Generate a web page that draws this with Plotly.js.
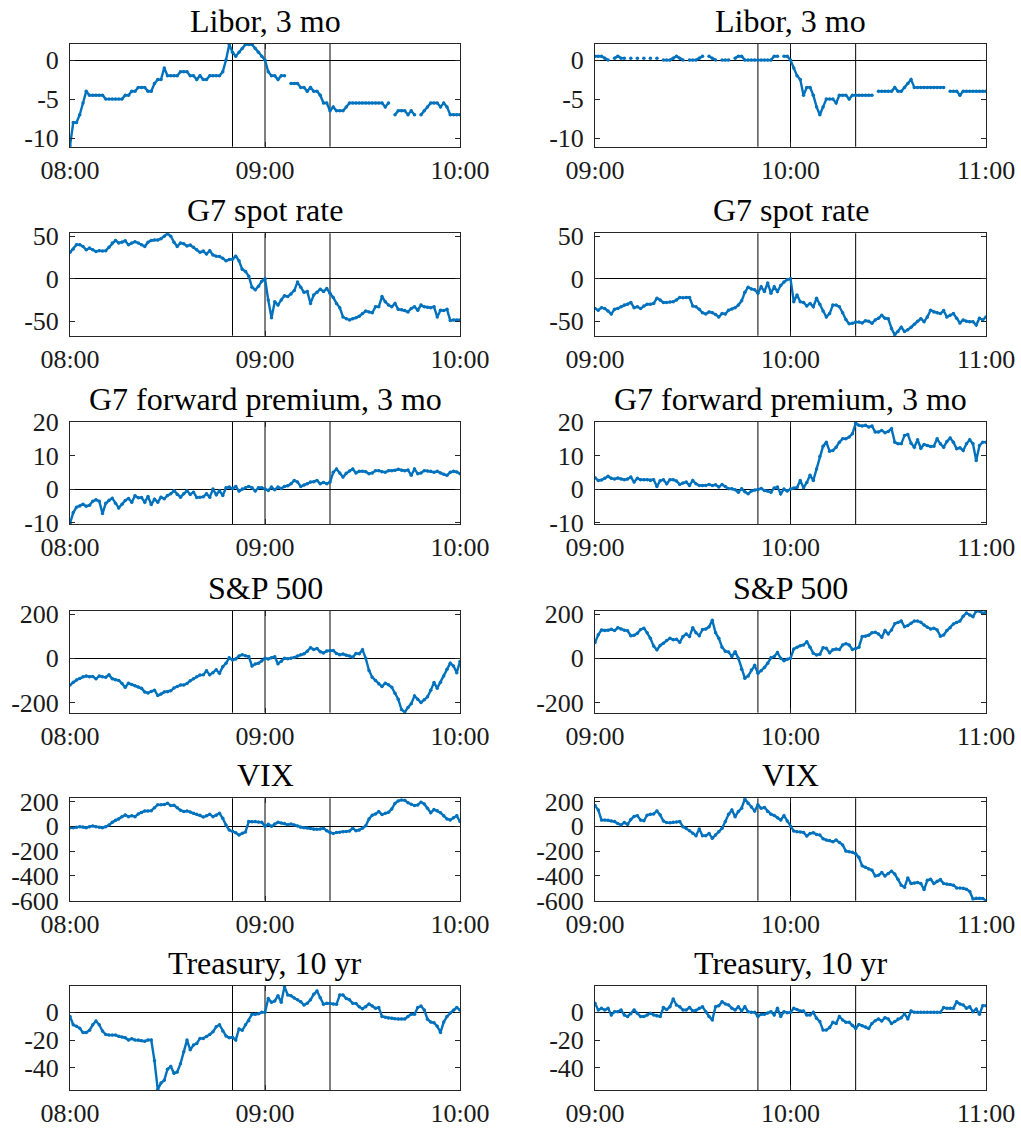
<!DOCTYPE html>
<html><head><meta charset="utf-8">
<script src="https://cdn.plot.ly/plotly-3.0.1.min.js"></script>
<style>html,body{margin:0;padding:0;background:#fff}</style>
</head><body><div id="chart" style="width:1021px;height:1128px"></div>
<script>
// ---------- data ----------
const panelTitles = ["Libor, 3 mo","G7 spot rate","G7 forward premium, 3 mo","S&P 500","VIX","Treasury, 10 yr"];
const startLeft = "08:00";
const startRight = "09:00";
const stepMinutes = 1;
const xTickLabelsLeft = ["08:00","09:00","10:00"];
const xTickLabelsRight = ["09:00","10:00","11:00"];
const eventTimesLeft = ["08:50","09:00","09:20"];
const eventTimesRight = ["09:50","10:00","10:20"];
const yTickValues = [[-10,-5,0],[-50,0,50],[-10,0,10,20],[-200,0,200],[-600,-400,-200,0,200],[-40,-20,0]];
const yRanges = [[-11.1,2.1],[-67,53.4],[-10.4,20],[-246,215],[-600,226],[-56,19.2]];

const liborL = [-11,-8,-8,-7,-5.5,-4,-4.5,-4.5,-4.5,-4.5,-4.5,
 -5,-5,-5,-5,-5,-5,
 -4.5,-4.5,-4,-4,
 -3.5,-3.5,-3.5,-4,-4,
 -3,-2.5,-2.5,-1,
 -2,-2,-2,-2,
 -1.5,-1.5,-1.5,
 -2,-2,-2.5,-2,-2.5,-2.5,-2,
 -2,-2,-2,-1.5,
 0,2,1,0.5,1,1.5,2,2,2,1.5,1,0.5,0,
 -1.5,-2,-2,-2.5,-2,-2,
 null,
 -3,-3,-3,-3.5,-3.5,-4,-3.5,-4,-4,-4.5,-5.5,-5.5,-6.5,-6,-6.5,-6.5,-6.5,-6,-5.5,
 -5.5,-5.5,-5.5,-5.5,-5.5,-5.5,-5.5,-5.5,-5.5,-5.5,
 -6,-5.5,
 null,
 -7,-6.5,-6.5,-6.5,-7,-6.5,-7,
 null,
 -7,-6.5,-6,-5.5,-5.5,-5.5,-6,-5.5,-6,-7,-7,-7,-7];
const liborR = [0.5,0.5,0.5,0.25,0,
 null,
 0.25,0.5,0.25,0.25,
 null,
 0.25,null,0.25,null,0.25,null,0.25,null,0.25,null,
 0,0,0,0.25,0.5,0.25,0,
 null,
 0,0,0,0.25,0.5,
 null,
 0.5,0.25,0,
 null,
 0,0,0,
 null,
 0.25,0.5,0.5,0,0,0,0,0,0,0,0,0,0.5,0.5,
 null,
 0.5,0.5,0,-1,-2,-2.5,-4.5,-3.5,-3.5,-4.5,-6,-7,-6,-5,-5,-5,-5.5,-4.5,-4.5,-4.5,-5,-4.5,-4.5,-4.5,-4.5,-4.5,-4.5,-4.5,
 null,
 -4,-4,-4,-4,-4,-3.5,-4,-4,-3.5,-3,-2.5,-3.5,-3.5,-3.5,-3.5,-3.5,-3.5,-3.5,-3.5,-3.5,-3.5,
 null,
 -4,-4,-4,-4.5,-4,-4,-4,-4,-4,-4,-4,-4];

const spotL = [31,35,40,40,38,34,36,34,32,33,32.5,
 33,37,42,45,42,43,44.5,40,42,43.5,
 42,40,38,43,45,45.5,45.5,47,50,53,
 50,43,38,42,41,38.5,39.5,37,34,31,
 32.5,29,33,28,26.5,26,24,21,22.5,23,
 26.5,21,11,8.5,3,-10,-13,-9,-3,0,
 -25,-46,-27,-31,-25,-20,-21,-18,-14,-4,
 -10,-16,-15,-29,-19,-16,-12.5,-15,-11.5,-17,
 -22,-29,-34,-45,-47,-48.5,-47,-46,-44,-41,
 -38,-39,-40,-33,-33,-21,-27,-31,-33,-29,
 -36,-36.5,-37.5,-39,-35,-33,-37,-31,-33,-33.5,
 -34,-33,-45,-37,-37.5,-36,-49,-48.5,-48.5,-48.5];
const spotR = [-35,-37,-34,-35,-38,-41.5,-36,-35,-33,-31,-30,
 -28,-34,-33,-35,-32,-30,-30,-29,-23,-25,
 -28,-28,-27.5,-27,-25,-22,-22.5,-22,-22,-32,
 -33,-36,-40,-41.5,-39,-40,-42,-45,-41,-41.5,
 -37,-35.5,-34,-31,-26,-16,-10,-12,-13,-17,
 -9.5,-15,-5,-17,-9.5,-15,-8,-4,-1,0,
 -27,-19,-27,-28,-32,-29,-33,-23,-30,-38,
 -45,-41,-31,-31,-33,-40,-48,-53,-52.5,-51,
 -51,-52,-49.5,-50,-52.5,-48.5,-46.5,-43,-46.5,-47,
 -58.5,-66,-62,-57,-62,-60,-57,-53.5,-50,-47,
 -50.5,-45,-37,-39,-40,-41,-37.5,-45,-43,-41,
 -46.5,-52,-48.5,-50,-50.5,-50.5,-54.5,-46.5,-48.5,-45];

const fwdL = [-10.2,-7,-5.4,-5,-4.5,-5.1,-4.8,-3.6,-3.2,-3.6,-7.3,
 -4.2,-3.3,-2.7,-4.2,-5.6,-4.5,-3.4,-2.8,-3.9,-2,
 -2.6,-2.5,-3.9,-2.2,-4.6,-3,-3.9,-2.4,-2.9,-1.9,
 -1.4,-0.5,-1.6,-2.4,-1.4,-0.5,-1.6,-0.9,-2.5,-2.4,
 -2.3,-1.4,-2.4,0,-1.7,-0.5,-1.9,0.4,0.6,0.1,
 0.8,-0.6,0,0.4,0.8,0.4,-0.6,0.4,0.4,0,
 -0.4,0.6,-0.2,0.6,0.2,0.8,1,1.6,2.6,2.1,
 0.8,1.2,1.6,2.1,2.2,2.6,1.6,2,1.6,2.1,
 5,6,4.8,3.6,4.7,5.4,6,4.8,5.3,5.3,
 5.2,4.6,4.8,5.5,5.5,5.2,5,5.5,5.5,5.6,
 5.9,5.6,5.5,5.7,4.1,6,4.6,4.8,5.5,5.4,
 5.3,5,5.3,4.8,4.4,4.1,5,5.3,5.1,4.6];
const fwdR = [3.4,2.6,2.7,3.2,3.8,3.2,3,3.3,3,2.8,3,
 3.6,2.1,3.2,2.8,2.8,2.8,2.6,2.8,0.8,2.5,
 2.8,1.6,2.8,2.8,2.4,1.4,1.8,2.1,1.1,2.6,
 1.6,1.1,1.1,1.1,1.4,1.1,1.3,0.6,1.4,0.8,
 0.1,0.1,-0.2,-0.9,0.1,-0.8,-1.4,-0.6,-0.3,-0.2,
 0.2,-0.4,-0.6,-0.9,0.3,0.6,-1.4,0,-0.6,0,
 0.3,0.5,2.6,0.4,2,4.1,2.6,6,9.7,12.8,
 14,11.3,11.5,12.5,14,15,15,15.5,16.5,19.6,
 19,18.8,19,18.5,18.8,17,17,17.5,16.8,17.2,
 18,14,13.5,13.5,16,16.3,13.7,12.5,14.7,12.2,
 13.3,13,12.7,12.8,15,13.5,12.5,14.2,15.2,14,
 12,12.3,11.5,13.5,14.7,13.5,8.5,13,14,14];

const spxL = [-121,-108,-98,-91,-84,-80,-83,-82,-93,-80,-84,
 -86,-75,-92,-97,-100,-114,-131,-113,-118,-124,
 -130,-136,-152,-157,-150,-144,-168,-162,-152,-151,
 -147,-134,-128,-121,-121,-114,-102,-92,-83,-76,
 -75,-56,-75,-65,-52,-68,-38,-23,2,-8,
 -3,10,16,11,8,-35,-26,-22,-12,0,
 -3,2,7,-25,-13,0,-2,0,4,10,
 16,20,32,48,40,44,30,24,33,35,
 35,22,16,19,14,10,5,22,20,38,
 0,-55,-86,-100,-115,-128,-113,-120,-131,-158,
 -185,-232,-244,-222,-205,-170,-185,-200,-188,-174,
 -145,-110,-135,-108,-80,-50,-22,-35,-65,-15];
const spxR = [71,106,128,126,127,131,125,138,132,127,124,
 102,104,113,130,136,115,90,55,38,58,
 68,80,90,84,86,72,98,110,98,138,
 115,102,130,132,142,172,115,90,50,32,
 28,8,30,0,-50,-90,-80,-53,-32,-68,
 -56,-42,-23,2,8,26,0,-11,-4,0,
 42,50,57,60,75,50,23,15,18,48,
 45,25,38,42,40,60,66,60,40,44,
 50,98,100,104,115,118,110,95,125,110,
 128,156,162,168,142,148,158,168,168,163,
 150,140,132,136,128,100,105,125,138,155,
 162,168,190,205,196,188,213,213,204,208];

const vixL = [-11,-11,-8,-3,-6,-11,-3,3,-3,-8,-11,
 -3,10,32,48,60,78,92,78,86,78,
 100,112,124,124,126,150,173,173,176,186,
 167,170,150,130,119,124,115,105,97,90,
 75,85,97,78,90,105,65,10,-30,-40,
 -52,-70,-55,-45,38,36,38,35,32,0,
 16,0,18,32,26,22,12,19,10,2,
 -8,-12,-14,-18,-24,-24,-22,-16,-35,-50,
 -57,-50,-47,-43,-41,-38,-16,-35,-30,-15,
 5,60,90,100,119,95,105,113,140,185,
 205,213,210,190,178,167,172,195,180,146,
 110,135,125,110,85,60,51,70,85,38];
const vixR = [167,132,51,51,48,43,38,22,11,30,16,
 55,80,86,50,45,90,97,100,124,92,
 43,30,28,32,35,38,-3,-16,-35,-55,
 -76,-22,-76,-76,-57,-97,-70,-43,-16,38,
 97,132,78,119,146,221,186,155,124,173,
 146,151,120,98,88,70,51,86,43,0,
 -38,-43,-46,-49,-78,-57,-52,-65,-70,-100,
 -111,-115,-124,-111,-130,-150,-200,-205,-210,-222,
 -250,-319,-330,-344,-354,-400,-394,-373,-400,-381,
 -362,-385,-427,-475,-491,-416,-462,-458,-454,-462,
 -510,-435,-427,-462,-443,-430,-462,-466,-470,-475,
 -497,-497,-500,-508,-525,-586,-580,-580,-582,-600];

const tsyL = [-3,-9,-10,-11.5,-14.5,-14.5,-13,-9,-6.3,-9,-13.5,
 -16,-16.3,-16.4,-16.4,-17.3,-17.8,-18.3,-20,-19,-20,
 -20,-20.5,-20.8,-20,-20,-35,-55.8,-51,-49,-41,
 -39,-44,-43,-37,-28.5,-20,-27,-23.6,-22.4,-18.8,
 -18.8,-17.5,-16,-14,-10.4,-9,-13.5,-17,-18.3,-18,
 -20,-12,-13,-9,-6,-1.4,-1.4,-1,0,0,
 10,7.2,8.2,12,7.2,18.5,12.5,12,10.3,9,
 7.7,5.3,6.5,9,13,15.4,10.5,5.8,6.5,6.5,
 6,5.8,12.5,12.5,10,9,6.5,6.3,4,2.6,
 4,6,4.5,3,3.4,-3,-3.5,-4,-4.3,-4.6,
 -4.8,-4.8,-4.8,-3,-1.4,-1.4,3.5,4.5,1.7,-5,
 -7,-7.5,-10,-14.5,-7,-3,-0.5,1.5,3.4,1.7];
const tsyR = [6.5,1.7,2.9,1.7,2.9,-1.9,0.5,0.5,1.7,-1.9,-3,
 -1,1.7,-0.7,-3,-3,-2,-0.7,-1.9,-2.5,-3,
 3.4,2,4,9.6,5.3,4,1.7,1.7,3.5,1,
 1.5,3,4,0.5,-3,-5.5,4,4.8,7.7,6,
 5.3,3,1.7,4,1,4,0.5,0,0,-3,
 -1.4,-1.4,-0.5,0.5,-1.9,2.9,-3,0.5,-0.3,0,
 2.9,2,1,1,-1.9,-1.9,0,-4.3,-6.7,-12.8,
 -12.8,-11,-7.2,-8,-3,-5.5,-7.2,-7.2,-9.5,-11.6,
 -8.7,-9.6,-10.5,-11.6,-8,-6,-4.8,-6.3,-3.9,-4.8,
 -8,-6.7,-4.8,-3.9,-1,-4.8,1,0,0,0,
 0,0,0,0,0,0,3.4,2.9,3,2.9,
 7.7,6,5.3,3,4,0.5,2.4,-1.4,4.8,4.8];

const leftSeries = [liborL, spotL, fwdL, spxL, vixL, tsyL];
const rightSeries = [liborR, spotR, fwdR, spxR, vixR, tsyR];

// ---------- layout / style ----------
const W = 1021, H = 1128;
const FONT = '"Liberation Serif", "Times New Roman", serif';
const LINE_COLOR = '#0072BD';
const AX_COLOR = '#262626';
const colPx = [[70, 460], [595, 986]];
const rowTopPx = [43.7, 233.3, 422, 610.7, 798.3, 985.7];
const rowBotPx = [146.7, 335.7, 524, 712.7, 900.7, 1090];

function toMin(s){ const p = s.split(':'); return (+p[0])*60 + (+p[1]); }

const traces = [];
const layout = {
  width: W, height: H,
  margin: {l:0, r:0, t:0, b:0},
  paper_bgcolor: '#fff', plot_bgcolor: '#fff',
  showlegend: false,
  font: {family: FONT, color: '#000'},
  shapes: [], annotations: []
};

for (let r = 0; r < 6; r++) {
  for (let c = 0; c < 2; c++) {
    const k = r*2 + c + 1;
    const ys = c === 0 ? leftSeries[r] : rightSeries[r];
    const start = toMin(c === 0 ? startLeft : startRight);
    const xs = ys.map((_, i) => start + i*stepMinutes);
    const tickLabels = c === 0 ? xTickLabelsLeft : xTickLabelsRight;
    const events = c === 0 ? eventTimesLeft : eventTimesRight;
    traces.push({
      x: xs, y: ys, xaxis: 'x'+k, yaxis: 'y'+k,
      type: 'scatter', mode: 'lines+markers', connectgaps: false,
      line: {color: LINE_COLOR, width: 2.4},
      marker: {color: LINE_COLOR, size: 3.5},
      hoverinfo: 'skip'
    });
    const xd = [colPx[c][0]/W, colPx[c][1]/W];
    const yd = [1 - rowBotPx[r]/H, 1 - rowTopPx[r]/H];
    const suffix = k === 1 ? '' : String(k);
    layout['xaxis'+suffix] = {
      domain: xd, anchor: 'y'+k,
      range: [start, start + 120],
      tickvals: tickLabels.map(toMin), ticktext: tickLabels,
      ticks: 'inside', ticklen: 5, tickwidth: 1, tickcolor: AX_COLOR,
      showline: true, linecolor: AX_COLOR, linewidth: 1, mirror: 'ticks',
      showgrid: false, zeroline: false, fixedrange: true,
      tickfont: {family: FONT, size: 26, color: '#1a1a1a'},
      ticklabelstandoff: 0
    };
    layout['yaxis'+suffix] = {
      domain: yd, anchor: 'x'+k,
      range: yRanges[r],
      tickvals: yTickValues[r], ticktext: yTickValues[r].map(v => String(v)),
      ticks: 'inside', ticklen: 5, tickwidth: 1, tickcolor: AX_COLOR,
      showline: true, linecolor: AX_COLOR, linewidth: 1, mirror: 'ticks',
      showgrid: false, zeroline: true, zerolinecolor: '#000', zerolinewidth: 1,
      fixedrange: true,
      tickfont: {family: FONT, size: 26, color: '#1a1a1a'},
      ticklabelstandoff: 5
    };
    events.forEach(t => {
      layout.shapes.push({
        type: 'line', xref: 'x'+k, yref: 'y'+k+' domain',
        x0: toMin(t), x1: toMin(t), y0: 0, y1: 1,
        line: {color: '#000', width: 1}, layer: 'below'
      });
    });
    layout.annotations.push({
      text: panelTitles[r], xref: 'paper', yref: 'paper',
      x: (xd[0] + xd[1]) / 2, y: yd[1], xanchor: 'center', yanchor: 'bottom',
      yshift: 3, showarrow: false,
      font: {family: FONT, size: 32, color: '#000'}
    });
  }
}

Plotly.newPlot('chart', traces, layout, {staticPlot: true, displayModeBar: false});
</script>
</body></html>
